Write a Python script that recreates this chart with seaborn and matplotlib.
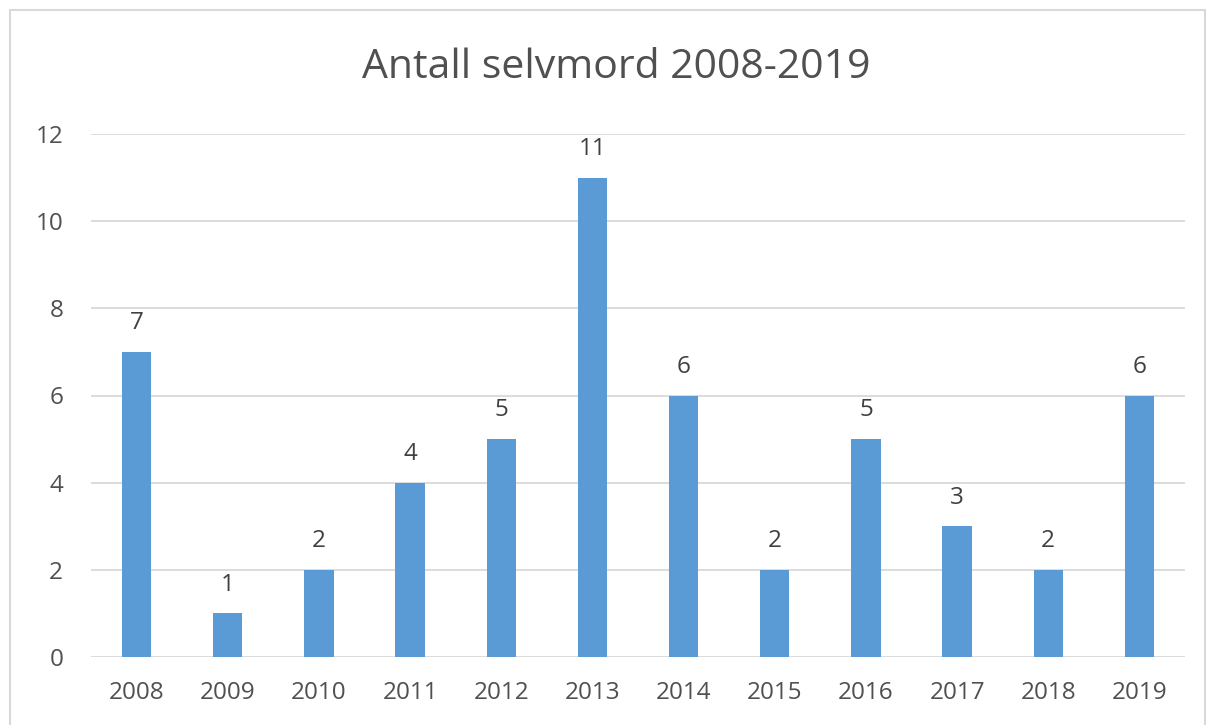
import matplotlib
matplotlib.use("Agg")
import matplotlib.pyplot as plt
import seaborn as sns
import pandas as pd
from matplotlib.lines import Line2D

years = ["2008", "2009", "2010", "2011", "2012", "2013", "2014", "2015", "2016", "2017", "2018", "2019"]
counts = [7, 1, 2, 4, 5, 11, 6, 2, 5, 3, 2, 6]
yticks = [0, 2, 4, 6, 8, 10, 12]
title = "Antall selvmord 2008-2019"

df = pd.DataFrame({"year": years, "count": counts})

sns.set_theme(style="white")
plt.rcParams['font.family'] = ['Open Sans', 'DejaVu Sans']

W, H = 1212, 725
fig = plt.figure(figsize=(W / 100, H / 100), dpi=100)
ax = fig.add_axes([91 / W, 1 - 657 / H, (1185 - 91) / W, (657 - 134) / H])

sns.barplot(data=df, x="year", y="count", color="#5B9BD5", width=0.32,
            saturation=1, linewidth=0, ax=ax, zorder=3)

ax.set_xlim(-0.5, len(years) - 0.5)
ax.set_ylim(0, 12)
ax.set_yticks(yticks)
ax.set_yticklabels([str(t) for t in yticks])
ax.grid(axis="y", color="#D9D9D9", linewidth=1.3, zorder=0)
ax.grid(axis="x", visible=False)
for s in ax.spines.values():
    s.set_visible(False)
ax.tick_params(axis="both", length=0, labelsize=17.5, labelcolor="#505050")
ax.tick_params(axis="x", pad=17)
ax.tick_params(axis="y", pad=20)
ax.set_xlabel("")
ax.set_ylabel("")

for i, v in enumerate(counts):
    ax.annotate(str(v), (i, v), xytext=(0, 12), textcoords="offset points",
                ha="center", va="bottom", fontsize=17.5, color="#404040")

fig.text(616 / W, 1 - 68 / H, title, ha="center", va="center",
         fontsize=29.5, color="#505050")

# outer chart border
bc = "#D9D9D9"
fig.add_artist(Line2D([10 / W, 10 / W], [0, 1 - 10 / H], transform=fig.transFigure, color=bc, lw=1.5))
fig.add_artist(Line2D([10 / W, 1205 / W], [1 - 10 / H, 1 - 10 / H], transform=fig.transFigure, color=bc, lw=1.5))
fig.add_artist(Line2D([1205 / W, 1205 / W], [0, 1 - 10 / H], transform=fig.transFigure, color=bc, lw=1.5))

fig.savefig("out.png", dpi=100, facecolor="white")
